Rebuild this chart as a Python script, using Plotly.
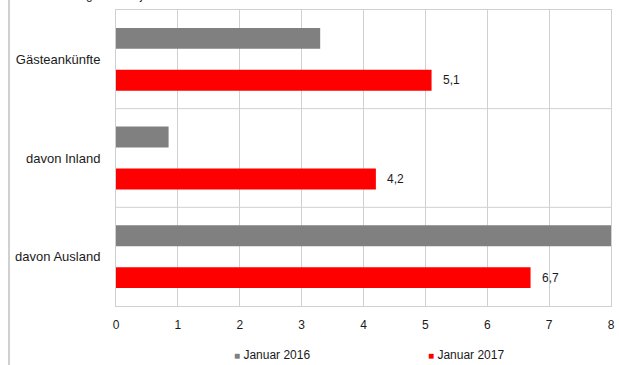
import plotly.graph_objects as go

# Data
categories = ["Gästeankünfte", "davon Inland", "davon Ausland"]
jan_2016 = [3.3, 0.85, 8.4]
jan_2017 = [5.1, 4.2, 6.7]
x_ticks = [0, 1, 2, 3, 4, 5, 6, 7, 8]
series_names = ["Januar 2016", "Januar 2017"]
series_colors = ["#808080", "#ff0000"]

FONT = "Liberation Sans, Arial, sans-serif"
GRID = "#d0d0d0"
W, H = 619, 365
L, R, T, B = 116, 8, 10, 59
plot_w = W - L - R
plot_h = H - T - B

fig = go.Figure()
for name, vals, col in zip(series_names, [jan_2016, jan_2017], series_colors):
    fig.add_trace(go.Bar(
        y=categories, x=vals, name=name, orientation="h",
        marker=dict(color=col, line=dict(width=0)),
        showlegend=False,
    ))

# value labels for the 2017 series
for cat, v in zip(categories, jan_2017):
    fig.add_annotation(
        x=v, y=cat, xref="x", yref="y",
        text=f"{v:.1f}".replace(".", ","),
        showarrow=False, xanchor="left", yanchor="middle",
        xshift=9, yshift=-21,
        font=dict(family=FONT, size=12, color="#1a1a1a"),
    )

# category boundary lines
for i in range(len(categories) - 1):
    fig.add_shape(type="line", xref="x domain", x0=0, x1=1,
                  yref="y", y0=i + 0.5, y1=i + 0.5,
                  line=dict(color=GRID, width=1), layer="below")

# heading (partly above the visible page)
fig.add_annotation(
    xref="paper", yref="paper",
    x=(22 - L) / plot_w, y=1 + 6 / plot_h,
    xanchor="left", yanchor="bottom",
    text="Veränderung zum Vorjahr in %", showarrow=False,
    font=dict(family=FONT, size=12, color="#1a1a1a"),
)

# left frame line
fig.add_shape(type="line", xref="paper", yref="paper",
              x0=(9 - L) / plot_w, x1=(9 - L) / plot_w,
              y0=-(B + 5) / plot_h, y1=1 + (T + 5) / plot_h,
              line=dict(color=GRID, width=2))

# legend
legend_x = [232, 426]
for name, col, lx in zip(series_names, series_colors, legend_x):
    fig.add_annotation(
        xref="paper", yref="paper",
        x=(lx - L) / plot_w, y=-(355 - T - plot_h) / plot_h,
        xanchor="left", yanchor="middle", showarrow=False,
        text=f"<span style='color:{col};font-size:10px'>■</span> {name}",
        font=dict(family=FONT, size=12, color="#1a1a1a"),
    )

fig.update_layout(
    width=W, height=H, autosize=False,
    margin=dict(l=L, r=R, t=T, b=B, pad=0, autoexpand=False),
    paper_bgcolor="white", plot_bgcolor="white",
    barmode="group", bargap=0.1515, bargroupgap=0.5,
    separators=",.",
    font=dict(family=FONT, size=12, color="#1a1a1a"),
)
fig.update_xaxes(
    range=[0, 8], tickvals=x_ticks, showgrid=True, gridcolor=GRID, gridwidth=1,
    zeroline=False, showline=True, linecolor=GRID, linewidth=1, mirror=True,
    ticks="", ticklabelstandoff=8, tickfont=dict(size=12), automargin=False,
)
fig.update_yaxes(
    autorange="reversed", showgrid=False, zeroline=False,
    showline=True, linecolor=GRID, linewidth=1, mirror=True,
    ticks="", ticklabelstandoff=12, tickfont=dict(size=13), automargin=False,
)

fig.write_html("out.html")
